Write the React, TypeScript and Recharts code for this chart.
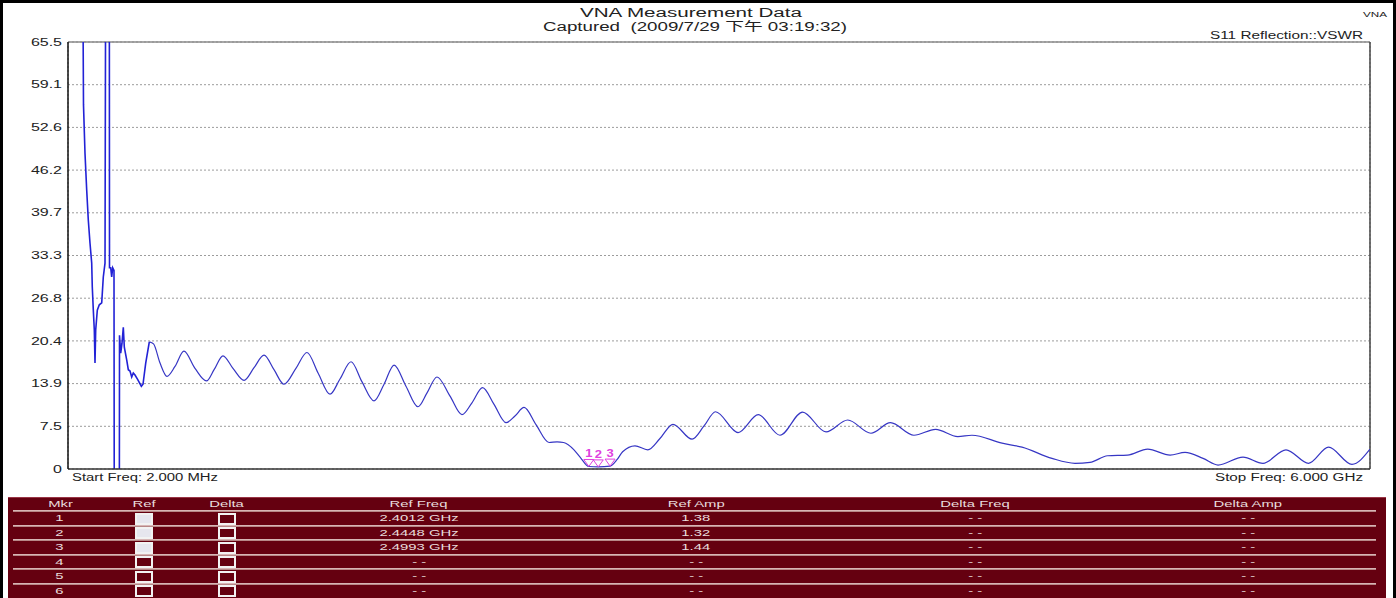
import React from 'react';
import { ComposedChart, Line, Scatter, XAxis, YAxis, CartesianGrid, ReferenceLine } from 'recharts';

// ---------- data ----------
// low-frequency part of the S11 VSWR trace (GHz, VSWR); values outside the scale are clipped
const lowFreqs = [0.0711, 0.0734, 0.0803, 0.0882, 0.0955, 0.1034, 0.1112, 0.1139, 0.1186, 0.1232, 0.1264, 0.1296, 0.137, 0.1462, 0.1573, 0.1646, 0.1725, 0.1757, 0.1923, 0.1932, 0.1987, 0.2033, 0.2079, 0.2139, 0.2153, 0.2383, 0.2393, 0.2448, 0.2508, 0.2568, 0.2614, 0.2724, 0.2798, 0.2876, 0.2955, 0.3028, 0.3107, 0.3213, 0.3399, 0.3475, 0.36, 0.3766];
const lowVswr = [70, 56.0, 48.7, 43.1, 38.6, 35.1, 32.1, 28.5, 25.0, 22.0, 17.0, 22.0, 25.0, 25.8, 26.1, 30.0, 32.1, 80, 80, 31.4, 31.4, 30.0, 31.4, 31.0, -10, -10, 21.2, 18.5, 20.0, 22.4, 19.4, 17.5, 16.0, 15.8, 14.9, 15.5, 15.2, 14.6, 13.5, 13.8, 17.0, 20.2];

// main part of the trace (GHz, VSWR)
const mainFreqs = [0.377, 0.396, 0.426, 0.458, 0.495, 0.536, 0.587, 0.64, 0.675, 0.716, 0.762, 0.813, 0.859, 0.905, 0.951, 0.997, 1.052, 1.103, 1.154, 1.209, 1.255, 1.306, 1.356, 1.412, 1.458, 1.504, 1.559, 1.614, 1.656, 1.702, 1.762, 1.817, 1.863, 1.912, 1.964, 2.02, 2.061, 2.103, 2.158, 2.218, 2.255, 2.285, 2.333, 2.361, 2.4012, 2.4448, 2.4993, 2.531, 2.557, 2.614, 2.673, 2.729, 2.789, 2.877, 2.932, 2.985, 3.089, 3.182, 3.282, 3.386, 3.494, 3.594, 3.701, 3.791, 3.899, 3.999, 4.101, 4.166, 4.305, 4.397, 4.535, 4.641, 4.71, 4.791, 4.883, 4.976, 5.079, 5.148, 5.231, 5.3, 5.415, 5.507, 5.613, 5.717, 5.809, 5.917, 6.0];
const mainVswr = [20.2, 19.9, 17.0, 15.0, 16.5, 18.8, 16.2, 14.3, 16.0, 18.1, 16.2, 14.4, 16.3, 18.2, 16.0, 13.8, 16.2, 18.6, 15.5, 12.3, 14.6, 17.2, 14.2, 11.3, 13.8, 16.7, 13.5, 10.4, 12.5, 14.9, 12.0, 9.2, 11.0, 13.3, 10.8, 8.0, 9.0, 10.3, 7.7, 5.0, 5.1, 5.0, 3.9, 2.8, 1.38, 1.32, 1.44, 2.4, 3.6, 4.5, 3.9, 5.6, 7.75, 5.5, 7.5, 9.65, 6.5, 9.2, 6.1, 9.6, 6.6, 8.4, 6.4, 8.0, 6.1, 7.0, 5.9, 6.1, 4.9, 4.3, 2.6, 1.86, 2.0, 3.0, 3.1, 4.0, 3.1, 3.5, 2.6, 1.6, 2.8, 1.86, 3.9, 1.86, 4.3, 1.7, 4.0];

// markers
const markerIds = ['1', '2', '3'];
const markerFreqs = [2.4012, 2.4448, 2.4993];
const markerAmps = [1.38, 1.32, 1.44];

// axes
const yTicks = [1, 7.45, 13.9, 20.35, 26.8, 33.25, 39.7, 46.15, 52.6, 59.05, 65.5];
const yTickLabels = ['0', '7.5', '13.9', '20.4', '26.8', '33.3', '39.7', '46.2', '52.6', '59.1', '65.5'];
const xTicks = [0.002, 0.602, 1.201, 1.801, 2.401, 3.001, 3.6, 4.2, 4.8, 5.4, 6.0];

// texts
const titleLine1 = 'VNA Measurement Data';
const titleLine2 = 'Captured  (2009/7/29 下午 03:19:32)';
const cornerTag = 'VNA';
const traceName = 'S11 Reflection::VSWR';
const startLabel = 'Start Freq: 2.000 MHz';
const stopLabel = 'Stop Freq: 6.000 GHz';

// table
const tableHeaders = ['Mkr', 'Ref', 'Delta', 'Ref Freq', 'Ref Amp', 'Delta Freq', 'Delta Amp'];
const markerRowIds = [1, 2, 3, 4, 5, 6];

// ---------- derived ----------
const lowData = lowFreqs.map((f, i) => ({ f, v: lowVswr[i] }));
const mainData = mainFreqs.map((f, i) => ({ f, v: mainVswr[i] }));
const markerData = markerFreqs.map((f, i) => ({ f, v: markerAmps[i], id: markerIds[i] }));
const tableRows = markerRowIds.map((id) => {
  const k = id - 1;
  const has = k < markerFreqs.length;
  return {
    id: String(id),
    checked: has,
    refFreq: has ? `${markerFreqs[k].toFixed(4)} GHz` : '- -',
    refAmp: has ? markerAmps[k].toFixed(2) : '- -',
    deltaFreq: '- -',
    deltaAmp: '- -',
  };
});

const FONT = '"Liberation Sans", Arial, "Noto Sans CJK SC", sans-serif';
const W = 1396;
const H = 598;

function YTick(props: any) {
  const { x, y, payload } = props;
  const i = yTicks.findIndex((t) => Math.abs(t - payload.value) < 1e-6);
  const label = i >= 0 ? yTickLabels[i] : String(payload.value);
  return (
    <g transform={`translate(${x},${y}) scale(1.6,1)`}>
      <text x={0} y={0} dy="0.36em" textAnchor="end" fontSize={10} fill="#222" fontFamily={FONT}>
        {label}
      </text>
    </g>
  );
}

function MarkerShape(props: any) {
  const { cx, cy, payload } = props;
  if (cx == null || cy == null) return <g />;
  return (
    <g>
      <path d={`M${cx - 5},${cy - 7}L${cx + 5},${cy - 7}L${cx},${cy}Z`} fill="none" stroke="#e040e0" strokeWidth={1} />
      <g transform={`translate(${cx},${cy - 9}) scale(1.3,1)`}>
        <text x={0} y={0} textAnchor="middle" fontSize={10} fontWeight="bold" fill="#e040e0" fontFamily={FONT}>
          {payload.id}
        </text>
      </g>
    </g>
  );
}

function SText({ x1, x2, y, size, children, color = '#222' }: any) {
  return (
    <text
      x={x1}
      y={y}
      fontSize={size}
      fill={color}
      fontFamily={FONT}
      textLength={x2 - x1}
      lengthAdjust="spacingAndGlyphs"
      style={{ whiteSpace: 'pre' }}
    >
      {children}
    </text>
  );
}

const TABLE_LEFT = 8;
const TABLE_TOP = 497;
const TABLE_W = 1378;
const HEADER_H = 13;
const ROW_H = 14.5;
const colCenters = [60, 144, 227, 419, 696, 975, 1248];
const TXT = '#e8dcdc';

function Cell({ cx, top, h, text }: any) {
  return (
    <div
      style={{
        position: 'absolute',
        left: cx - 90 - TABLE_LEFT,
        width: 180,
        top,
        height: h,
        lineHeight: `${h}px`,
        textAlign: 'center',
        fontSize: 9,
        fontFamily: FONT,
        color: TXT,
        whiteSpace: 'pre',
      }}
    >
      <span style={{ display: 'inline-block', transform: 'scaleX(1.65)' }}>{text}</span>
    </div>
  );
}

function Box({ cx, top, checked }: any) {
  return (
    <div
      style={{
        position: 'absolute',
        left: cx - 9 - TABLE_LEFT,
        top: top + (ROW_H - 12) / 2 + 0.5,
        width: 18,
        height: 12,
        border: '2px solid #f2f2f2',
        boxSizing: 'border-box',
        background: checked ? '#e6e6ee' : 'transparent',
      }}
    />
  );
}

function MarkerTable() {
  return (
    <div
      style={{
        position: 'absolute',
        left: TABLE_LEFT,
        top: TABLE_TOP,
        width: TABLE_W,
        height: H - TABLE_TOP,
        background: '#650010',
        borderTop: '1px solid #9a3545',
        boxSizing: 'border-box',
      }}
    >
      {tableHeaders.map((h, c) => (
        <Cell key={h} cx={colCenters[c]} top={0} h={HEADER_H} text={h} />
      ))}
      {tableRows.map((r, i) => {
        const top = HEADER_H + i * ROW_H - 1;
        return (
          <React.Fragment key={r.id}>
            <div
              style={{
                position: 'absolute',
                left: 5,
                width: TABLE_W - 15,
                top: top,
                height: 2,
                background: 'linear-gradient(#e6cccc, #a87070)',
              }}
            />
            <Cell cx={colCenters[0]} top={top + 1} h={ROW_H} text={r.id} />
            <Box cx={colCenters[1]} top={top + 1} checked={r.checked} />
            <Box cx={colCenters[2]} top={top + 1} checked={false} />
            <Cell cx={colCenters[3]} top={top + 1} h={ROW_H} text={r.refFreq} />
            <Cell cx={colCenters[4]} top={top + 1} h={ROW_H} text={r.refAmp} />
            <Cell cx={colCenters[5]} top={top + 1} h={ROW_H} text={r.deltaFreq} />
            <Cell cx={colCenters[6]} top={top + 1} h={ROW_H} text={r.deltaAmp} />
          </React.Fragment>
        );
      })}
    </div>
  );
}

export default function App() {
  return (
    <div style={{ position: 'absolute', left: 0, top: 0, width: W, height: H, background: '#fff', overflow: 'hidden' }}>
      <div style={{ position: 'absolute', left: 0, top: 0 }}>
        <ComposedChart width={W} height={480} margin={{ top: 42, right: 26, bottom: 10, left: 8 }}>
          <CartesianGrid stroke="#9c9c9c" strokeDasharray="2 2" />
          <XAxis
            type="number"
            dataKey="f"
            domain={[0.002, 6.0]}
            ticks={xTicks}
            allowDataOverflow
            tick={false}
            tickLine={false}
            height={1}
            axisLine={{ stroke: '#333', strokeWidth: 1.5 }}
          />
          <YAxis
            type="number"
            domain={[1, 65.5]}
            ticks={yTicks}
            allowDataOverflow
            width={60}
            tickLine={false}
            tickMargin={0}
            tick={<YTick />}
            axisLine={{ stroke: '#111', strokeWidth: 1.5 }}
          />
          <ReferenceLine y={65.5} stroke="#8a8a8a" strokeWidth={1.5} />
          <ReferenceLine x={6.0} stroke="#444" strokeWidth={1.5} />
          <Line
            data={lowData}
            dataKey="v"
            type="linear"
            stroke="#2222d6"
            strokeWidth={1.6}
            dot={false}
            isAnimationActive={false}
          />
          <Line
            data={mainData}
            dataKey="v"
            type="monotone"
            stroke="#3636c4"
            strokeWidth={1.2}
            dot={false}
            isAnimationActive={false}
          />
          <Scatter data={markerData} dataKey="v" shape={<MarkerShape />} isAnimationActive={false} />
        </ComposedChart>
      </div>
      <svg width={W} height={H} style={{ position: 'absolute', left: 0, top: 0, pointerEvents: 'none' }}>
        <SText x1={580} x2={802} y={17} size={12}>{titleLine1}</SText>
        <SText x1={543} x2={847} y={31} size={12}>{titleLine2}</SText>
        <SText x1={1363} x2={1387} y={17} size={8}>{cornerTag}</SText>
        <SText x1={1210} x2={1363} y={39} size={10}>{traceName}</SText>
        <SText x1={72} x2={218} y={481} size={10}>{startLabel}</SText>
        <SText x1={1215} x2={1363} y={481} size={10}>{stopLabel}</SText>
      </svg>
      <MarkerTable />
      <div
        style={{
          position: 'absolute',
          left: 0,
          top: 0,
          width: W,
          height: H,
          borderTop: '3px solid #000',
          borderLeft: '3px solid #000',
          borderRight: '3px solid #000',
          boxSizing: 'border-box',
          pointerEvents: 'none',
        }}
      />
    </div>
  );
}
